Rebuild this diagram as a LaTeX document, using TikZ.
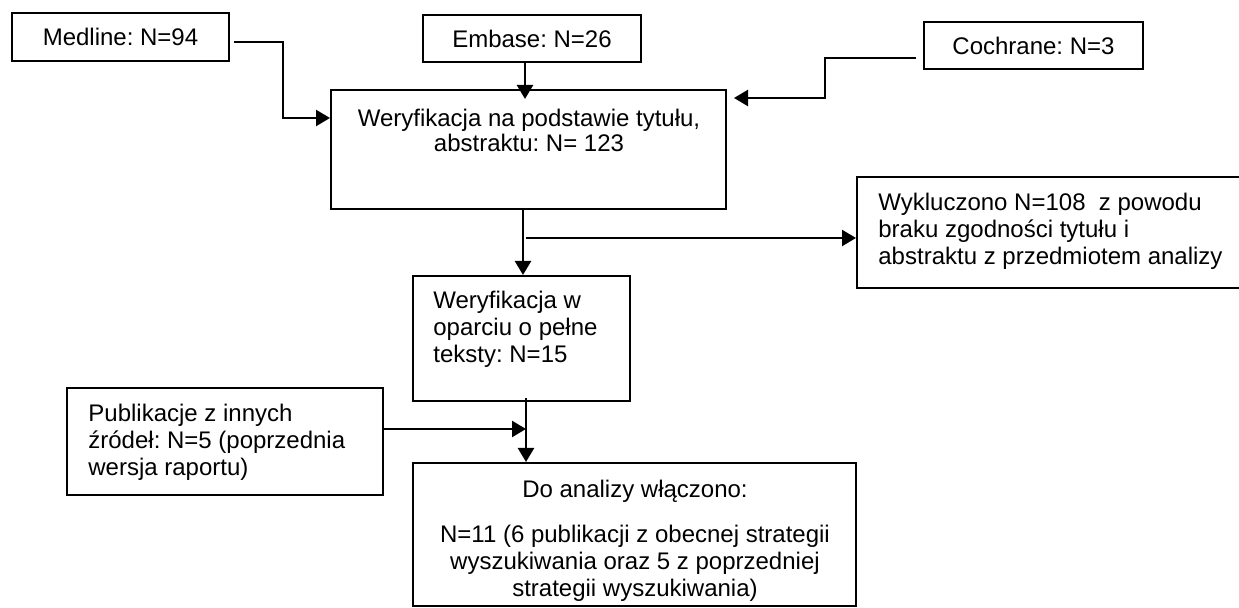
\documentclass[tikz,border=0pt]{standalone}
\usepackage{fontspec}
\setmainfont{Liberation Sans}
\frenchspacing
\usetikzlibrary{arrows.meta,calc}
\begin{document}
\begin{tikzpicture}[x=0.5pt,y=-0.5pt,
  box/.style={draw=black, line width=1pt, inner sep=0pt},
  txt/.style={font=\fontsize{12}{13.5}\selectfont, inner sep=0pt},
  arr/.style={line width=1.2pt, -{Triangle[length=7pt,width=8pt]}}]
\useasboundingbox (0,0) rectangle (1239,608);
% boxes
\node[box, txt, minimum width=108.5pt, minimum height=24pt] (med) at (120.5,37) {Medline: N=94};
\node[box, txt, minimum width=109pt, minimum height=23.5pt] (emb) at (532,38.5) {Embase: N=26};
\node[box, txt, minimum width=109.5pt, minimum height=23.5pt] (coch) at (1033.5,45.5) {Cochrane: N=3};
\node[box, minimum width=197.5pt, minimum height=59.5pt] (main) at (528.5,149.5) {};
\node[box, minimum width=201.5pt, minimum height=55.5pt] (wyk) at (1058.5,232.5) {};
\node[box, minimum width=108.5pt, minimum height=62.5pt] (sec) at (521.5,338.5) {};
\node[box, minimum width=158pt, minimum height=53.5pt] (pub) at (225,441.5) {};
\node[box, minimum width=221.5pt, minimum height=71.5pt] (do) at (634.5,534.5) {};
% texts (base anchor = baseline of the last line)
\node[txt, anchor=base, align=center] (maint) at (529,152) {Weryfikacja na podstawie tytułu,\\[-1pt]abstraktu: N= 123};
\node[txt, anchor=base west, align=left] (wykt) at (878,265) {Wykluczono N=108~ z powodu\\braku zgodności tytułu i\\abstraktu z przedmiotem analizy};
\node[txt, anchor=base west, align=left] (sect) at (433,363) {Weryfikacja w\\oparciu o pełne\\teksty: N=15};
\node[txt, anchor=base west, align=left] (pubt) at (88,476) {Publikacje z innych\\źródeł: N=5 (poprzednia\\wersja raportu)};
\node[txt, anchor=base, align=center] (dot) at (635,597) {Do analizy włączono:\\[9pt]N=11 (6 publikacji z obecnej strategii\\wyszukiwania oraz 5 z poprzedniej\\strategii wyszukiwania)};
% connectors
\coordinate (m1) at (283,118);
\draw[arr] ($(med.east)+(4,5)$) -| (m1) -- (m1 -| main.west);
\coordinate (etip) at (525,99);
\draw[arr] (emb.south -| etip) -- (etip);
\coordinate (c1) at (825,98);
\coordinate (ctip) at (734,98);
\draw[arr] ($(coch.west)+(-7,12.5)$) -| (c1) -- (ctip);
\coordinate (vx) at (523,0);
\draw[arr] (main.south -| vx) -- (sec.north -| vx);
\coordinate (b0) at (526,238);
\draw[arr] (b0) -- (b0 -| wyk.west);
\coordinate (v2) at (526,398);
\draw[arr] (v2) -- (v2 |- do.north);
\coordinate (v3) at (526,429);
\draw[arr] (pub.east |- v3) -- (v3);
\end{tikzpicture}
\end{document}
